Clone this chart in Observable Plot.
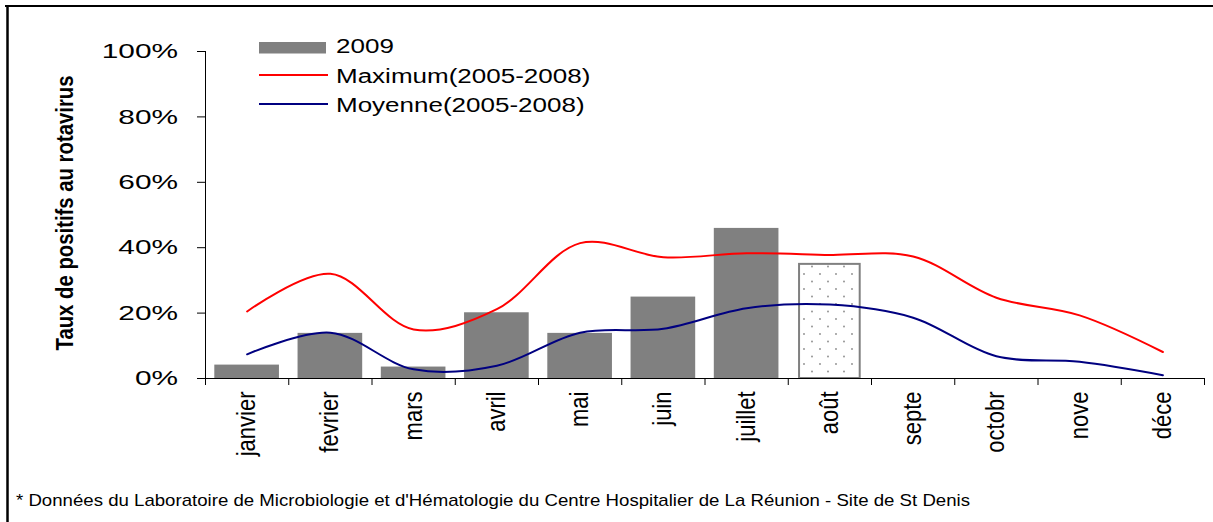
<!DOCTYPE html>
<html><head><meta charset="utf-8">
<script src="https://cdn.jsdelivr.net/npm/d3@7"></script>
<script src="https://cdn.jsdelivr.net/npm/@observablehq/plot@0.6"></script>
<style>
body{margin:0;background:#fff;}
#wrap{position:relative;width:1213px;height:522px;overflow:hidden;font-family:"Liberation Sans",Arial,sans-serif;background:#fff;}
#wrap svg{position:absolute;left:0;top:0;}
</style></head><body><div id="wrap"></div>
<script>
// ---- data (percent) ----
const months = ["janvier","fevrier","mars","avril","mai","juin","juillet","août","septe","octobr","nove","déce"];
const values2009 = [4.1, 13.8, 3.5, 20.1, 13.8, 24.9, 45.9, 34.9, null, null, null, null];
const partial2009 = [false, false, false, false, false, false, false, true, false, false, false, false];
const maximum = [20.5, 32.0, 15.0, 21.2, 41.4, 37.1, 38.3, 37.8, 37.3, 24.7, 19.3, 8.1];
const moyenne = [7.4, 14.0, 2.8, 3.9, 14.0, 15.2, 21.5, 22.6, 18.6, 6.8, 5.1, 1.0];
const yTicks = [0, 20, 40, 60, 80, 100];
const seriesNames = ["2009", "Maximum(2005-2008)", "Moyenne(2005-2008)"];
const seriesColors = ["#808080", "#ff0000", "#000080"];
const yTitle = "Taux de positifs au rotavirus";
const footnote = "* Données du Laboratoire de Microbiologie et d'Hématologie du Centre Hospitalier de La Réunion - Site de St Denis";

const bars = months.map((m, i) => ({i, month: m, value: values2009[i], partial: partial2009[i]})).filter(d => d.value != null);
const maxData = months.map((m, i) => ({i, month: m, v: maximum[i]}));
const moyData = months.map((m, i) => ({i, month: m, v: moyenne[i]}));

const W = 1213, H = 522;
const FONT = "'Liberation Sans', Arial, sans-serif";

const dotsDefs = () => {
  const defs = d3.create("svg:defs");
  const p = defs.append("pattern").attr("id", "dots").attr("patternUnits", "userSpaceOnUse")
    .attr("width", 16).attr("height", 15);
  p.append("rect").attr("width", 16).attr("height", 15).attr("fill", "white");
  p.append("circle").attr("cx", 4).attr("cy", 4).attr("r", 0.9).attr("fill", "#8a8a8a");
  p.append("circle").attr("cx", 12).attr("cy", 11.5).attr("r", 0.9).attr("fill", "#8a8a8a");
  return defs.node();
};

const chart = Plot.plot({
  width: W, height: H,
  marginLeft: 205, marginRight: 9, marginTop: 51, marginBottom: H - 378,
  style: {fontFamily: FONT, color: "#000", background: "transparent"},
  x: {type: "linear", domain: [0, months.length]},
  y: {domain: [0, 100]},
  marks: [
    dotsDefs,
    Plot.rect(bars.filter(d => !d.partial), {x1: d => d.i, x2: d => d.i + 1, y1: () => 0, y2: "value", fill: seriesColors[0], insetLeft: 9.3, insetRight: 9.3}),
    Plot.rect(bars.filter(d => d.partial), {x1: d => d.i, x2: d => d.i + 1, y1: () => 0, y2: "value", fill: "url(#dots)", stroke: "#808080", strokeWidth: 2, insetLeft: 11.3, insetRight: 11.3}),
    Plot.line(maxData, {x: d => d.i + 0.5, y: "v", stroke: seriesColors[1], strokeWidth: 2, curve: "catmull-rom"}),
    Plot.line(moyData, {x: d => d.i + 0.5, y: "v", stroke: seriesColors[2], strokeWidth: 2, curve: "catmull-rom"}),
    Plot.ruleY([0], {stroke: "#000"}),
    Plot.ruleX([0], {stroke: "#000"}),
    Plot.axisY({ticks: yTicks, tickFormat: d => d + "%", tickSize: 8, tickPadding: 19.5, fontSize: 21, label: null}),
    Plot.axisX({ticks: d3.range(months.length + 1), tickSize: 7, tickFormat: () => "", label: null}),
    Plot.axisX({ticks: months.map((m, i) => i + 0.5), tickSize: 0, tickPadding: 13, tickRotate: -90, fontSize: 25,
      tickFormat: d => months[Math.floor(d)], label: null})
  ]
});

const wrap = document.getElementById("wrap");
wrap.appendChild(chart);

// stretch / condense tick labels like the reference
chart.querySelectorAll('g[aria-label="y-axis tick label"] text').forEach(t => {
  const len = t.getComputedTextLength();
  if (len > 0) { t.setAttribute("textLength", len * 1.42); t.setAttribute("lengthAdjust", "spacingAndGlyphs"); }
});
chart.querySelectorAll('g[aria-label="x-axis tick label"] text').forEach(t => {
  const len = t.getComputedTextLength();
  if (len > 0) { t.setAttribute("textLength", len * 0.88); t.setAttribute("lengthAdjust", "spacingAndGlyphs"); }
});

// overlay: frame, legend, title, footnote
const ov = d3.select(wrap).append("svg").attr("width", W).attr("height", H).style("font-family", FONT);
ov.append("line").attr("x1", 5).attr("x2", W).attr("y1", 6).attr("y2", 6).attr("stroke", "#000").attr("stroke-width", 2);
ov.append("line").attr("x1", 7.5).attr("x2", 7.5).attr("y1", 5).attr("y2", H).attr("stroke", "#000").attr("stroke-width", 2.5);

const lg = ov.append("g");
lg.append("rect").attr("x", 259).attr("y", 42).attr("width", 67).attr("height", 11.5).attr("fill", seriesColors[0]);
lg.append("line").attr("x1", 259).attr("x2", 328).attr("y1", 75).attr("y2", 75).attr("stroke", seriesColors[1]).attr("stroke-width", 2);
lg.append("line").attr("x1", 259).attr("x2", 328).attr("y1", 104).attr("y2", 104).attr("stroke", seriesColors[2]).attr("stroke-width", 2);
const baselines = [53.3, 83.3, 111.7];
seriesNames.forEach((s, k) => {
  const t = lg.append("text").attr("x", 336).attr("y", baselines[k]).attr("font-size", 20).attr("fill", "#000").text(s);
  const len = t.node().getComputedTextLength();
  t.attr("textLength", len * 1.3).attr("lengthAdjust", "spacingAndGlyphs");
});

ov.append("text").attr("transform", "translate(73,213) rotate(-90)").attr("text-anchor", "middle")
  .attr("font-size", 23).attr("font-weight", "bold").attr("fill", "#000")
  .attr("textLength", 275).attr("lengthAdjust", "spacingAndGlyphs").text(yTitle);

ov.append("text").attr("x", 16).attr("y", 505.5).attr("font-size", 17).attr("fill", "#000")
  .attr("textLength", 954).attr("lengthAdjust", "spacingAndGlyphs").text(footnote);
</script>
</body></html>
